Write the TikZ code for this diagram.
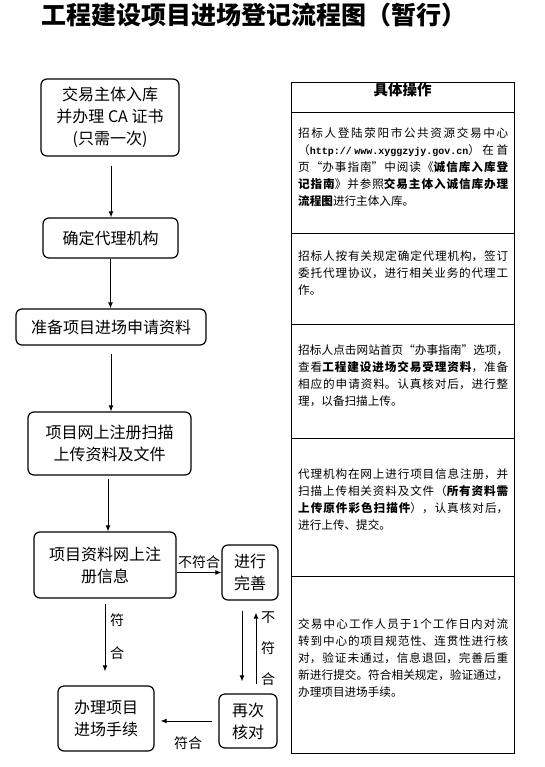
\documentclass[tikz,border=0pt]{standalone}
\usepackage{fontspec}
\setmainfont{Noto Sans CJK SC}
\newfontfamily\urlfont{Liberation Mono}
\XeTeXlinebreaklocale "zh"
\XeTeXlinebreakskip=0pt plus 3pt
\usetikzlibrary{arrows.meta}
\tikzset{
  box/.style={draw, line width=1.2pt, rounded corners=6pt, align=center,
    inner sep=0pt, font=\fontsize{16}{22}\selectfont},
  flow/.style={line width=1pt, -{Latex[length=6pt,width=5pt]}},
  lbl/.style={inner sep=0pt, align=center, font=\fontsize{14}{31}\selectfont},
  op/.style={anchor=west, align=justify, text width=210pt, inner sep=0pt,
    font=\fontsize{11.6}{17}\selectfont}
}
\begin{document}
\begin{tikzpicture}[x=1pt, y=-1pt]
  \useasboundingbox (0,0) rectangle (544,767);
  \node[font=\fontsize{25}{28}\selectfont\bfseries] (title) at (254,15) {工程建设项目进场登记流程图（暂行）}; % Title

  % Flow boxes
  \node[box, minimum width=138pt, minimum height=77pt] (ca) at (110,117.5) {交易主体入库\\并办理 CA 证书\\(只需一次)};
  \node[box, minimum width=135pt, minimum height=40pt] (agent) at (110.5,238) {确定代理机构};
  \node[box, minimum width=190pt, minimum height=36pt] (prep) at (111,327) {准备项目进场申请资料};
  \node[box, minimum width=163pt, minimum height=63pt] (scan) at (109.5,443.5) {项目网上注册扫描\\上传资料及文件};
  \node[box, minimum width=142pt, minimum height=66pt] (reg) at (105,565) {项目资料网上注\\册信息};
  \node[box, minimum width=56pt, minimum height=55pt] (fix) at (250,572.5) {进行\\完善};
  \node[box, minimum width=96pt, minimum height=65pt] (done) at (106,718.5) {办理项目\\进场手续};
  \node[box, minimum width=58pt, minimum height=54pt] (check) at (248,721) {再次\\核对};

  % Connectors
  \draw[flow, shorten <=9pt] ([xshift=1pt]ca.south) -- ([xshift=1pt]ca.south |- agent.north);
  \draw[flow] (agent.south) -- (agent.south |- prep.north);
  \draw[flow, shorten <=8pt] (prep.south) -- (prep.south |- scan.north);
  \draw[flow, shorten <=3pt] ([xshift=-1.5pt]scan.south) -- ([xshift=-1.5pt]scan.south |- reg.north);
  \draw[flow] (reg.east |- fix.west) -- (fix.west); % not passed
  \draw[flow, shorten <=5pt, shorten >=14pt] (reg.south) -- (reg.south |- done.north); % passed
  \draw[flow, shorten <=10pt, shorten >=12pt] ([xshift=-8pt]fix.south) -- ([xshift=-8pt]fix.south |- check.north);
  \draw[flow, shorten <=9pt, shorten >=12pt] ([xshift=8pt]check.north) -- ([xshift=8pt]check.north |- fix.south);
  \draw[flow, shorten <=6pt, shorten >=6pt] (check.west) -- (done.east |- check.west);

  % Connector labels
  \node[lbl] (no1) at (199,562) {不符合};
  \node[lbl, font=\fontsize{14}{33}\selectfont] (yes1) at (117,636.5) {符\\合};
  \node[lbl] (no2) at (268,649) {不\\符\\合};
  \node[lbl] (yes2) at (188,743) {符合};

  % Table of steps
  \draw[line width=0.8pt] (291,82) rectangle (514,753);
  \foreach \Y in {112,233,324,438,576} {
    \draw[line width=0.8pt] (291,\Y) -- (514,\Y); % row lines
  }
  \node[font=\fontsize{14.5}{17}\selectfont\bfseries] (head) at (402.5,90) {具体操作};
  \node[op] (op1) at (298,167) {招标人登陆荥阳市公共资源交易中心\linebreak
    （{\urlfont\bfseries\fontsize{10}{17}\selectfont http://www.xyggzyjy.gov.cn}）在首\linebreak
    页“办事指南”中阅读《\textbf{诚信库入库登}\linebreak
    \textbf{记指南}》并参照\textbf{交易主体入诚信库办理}\linebreak
    \textbf{流程图}进行主体入库。};
  \node[op] (op2) at (298,273) {招标人按有关规定确定代理机构，签订\linebreak
    委托代理协议，进行相关业务的代理工\linebreak
    作。};
  \node[op] (op3) at (298,376) {招标人点击网站首页“办事指南”选项，\linebreak
    查看\textbf{工程建设进场交易受理资料}，准备\linebreak
    相应的申请资料。认真核对后，进行整\linebreak
    理，以备扫描上传。};
  \node[op] (op4) at (298,500) {代理机构在网上进行项目信息注册，并\linebreak
    扫描上传相关资料及文件（\textbf{所有资料需}\linebreak
    \textbf{上传原件彩色扫描件}），认真核对后，\linebreak
    进行上传、提交。};
  \node[op] (op5) at (298,658) {交易中心工作人员于1个工作日内对流\linebreak
    转到中心的项目规范性、连贯性进行核\linebreak
    对，验证未通过，信息退回，完善后重\linebreak
    新进行提交。符合相关规定，验证通过，\linebreak
    办理项目进场手续。};
\end{tikzpicture}
\end{document}
